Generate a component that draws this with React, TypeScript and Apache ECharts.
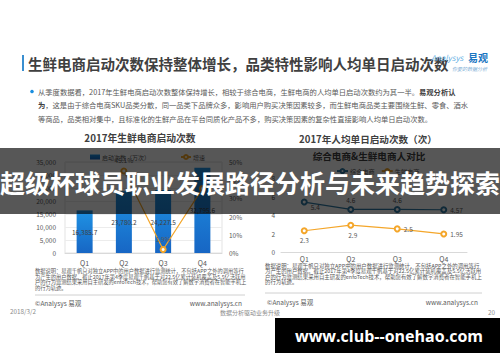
import React, { useEffect, useRef } from 'react';
import * as echarts from 'echarts';

const FONT = '"Noto Sans CJK SC", "Noto Sans", sans-serif';

// ---- data ----
const quarters = ['Q1', 'Q2', 'Q3', 'Q4'];
const launches = [16385.7, 23780.2, 24227.5, 32795.6];
const growth: (number | string)[] = ['-', 45.1, 1.9, 35.4];
const comprehensive = [5.4, 4.6, 4.6, 4.57];
const fresh = [2.3, 2.9, 2.5, 1.95];

// ---- texts ----
const headline = '生鲜电商启动次数保持整体增长，品类特性影响人均单日启动次数';
const bulletLines = [
  '从季度数据看，2017年生鲜电商启动次数整体保持增长，相较于综合电商，生鲜电商的人均单日启动次数约为其一半。{b|易观分析认}',
  '{b|为}，这是由于综合电商SKU品类分散，同一品类下品牌众多，影响用户购买决策因素较多，而生鲜电商品类主要围绕生鲜、零食、酒水',
  '等商品，品类相对集中，且标准化的生鲜产品在平台同质化产品不多，购买决策因素的复杂性直接影响人均单日启动次数。',
];
const noteLines = [
  '数据说明：易观千帆只对独立APP中的用户数据进行监测统计，不包括APP之外的调用等行',
  '为产生的用户数据。截止2017年第4季度易观千帆基于对22.5亿累计装机覆盖及5.5亿活跃用',
  '户的行为监测结果采用自主研发的enfoTech技术，帮助您有效了解数字消费者在智能手机上',
  '的行为轨迹。',
];
const bannerText = '超级杯球员职业发展路径分析与未来趋势探索';
const watermarkText = 'www.club--onehao.com';

const ORANGE = '#f4a62a';
const TEAL = '#2f7aa3';
const GRAY = '#595959';

function txt(x: number, y: number, text: string, size: number, extra: any = {}, z = 10) {
  return {
    type: 'text',
    x,
    y,
    z,
    silent: true,
    style: {
      text,
      fontSize: size,
      fontFamily: FONT,
      fill: GRAY,
      textVerticalAlign: 'middle',
      ...extra,
    },
  };
}

export default function App() {
  const ref = useRef<HTMLDivElement>(null);

  useEffect(() => {
    if (!ref.current) return;
    const chart = echarts.init(ref.current, null, { renderer: 'svg' });

    const graphics: any[] = [];
    // header
    graphics.push({ type: 'rect', shape: { x: 22, y: 55, width: 2, height: 16 }, style: { fill: '#3a8fd0' }, z: 10 });
    graphics.push(txt(28, 63, headline, 14.5, { fontWeight: 'bold', fill: '#404040' }));
    graphics.push(txt(431, 57, 'Analysys', 8, { fontStyle: 'italic', fill: '#6fb6e6' }));
    graphics.push(txt(468, 57, '易观', 10, { fontWeight: 'bold', fill: '#1a76c2' }));
    graphics.push(txt(487, 68, '你要的数据分析', 5, { fontStyle: 'italic', fill: '#7fb0d6', textAlign: 'right' }));
    // bullet
    graphics.push({ type: 'circle', shape: { cx: 32, cy: 91.5, r: 1.8 }, style: { fill: '#1a8fe0' }, z: 10 });
    const bulletY = [91.5, 105, 118.5];
    bulletLines.forEach((l, i) => {
      graphics.push(txt(38, bulletY[i], l, 7.3, { rich: { b: { fontWeight: 'bold', fontSize: 7.3, fontFamily: FONT, fill: '#404040' } } }));
    });
    // chart titles
    graphics.push(txt(140, 138, '2017年生鲜电商启动次数', 9.8, { fontWeight: 'bold', fill: '#404040', textAlign: 'center' }));
    graphics.push(txt(368, 139, '2017年人均单日启动次数（次）', 9.6, { fontWeight: 'bold', fill: '#404040', textAlign: 'center' }));
    graphics.push(txt(369, 156, '综合电商&生鲜电商人对比', 9.6, { fontWeight: 'bold', fill: '#404040', textAlign: 'center' }));
    // footnotes
    const noteYL = [271, 276.5, 282, 287.5];
    const noteYR = [265.5, 271, 276.5, 282];
    noteLines.forEach((l, i) => {
      graphics.push(txt(35, noteYL[i], l, 5.25, {}));
      graphics.push(txt(265, noteYR[i], l, 5.4, {}));
    });
    graphics.push({ type: 'line', shape: { x1: 35, y1: 295, x2: 245, y2: 295 }, style: { stroke: '#d0d0d0', lineWidth: 1 }, z: 10 });
    graphics.push({ type: 'line', shape: { x1: 265, y1: 293, x2: 482, y2: 293 }, style: { stroke: '#d0d0d0', lineWidth: 1 }, z: 10 });
    graphics.push(txt(35, 302.5, '©Analysys 易观', 6.5));
    graphics.push(txt(242, 302.5, 'www.analysys.cn', 6.5, { textAlign: 'right' }));
    graphics.push(txt(267, 302, '©Analysys 易观', 6.5));
    graphics.push(txt(478, 302, 'www.analysys.cn', 6.5, { textAlign: 'right' }));
    // page footer
    graphics.push(txt(10, 311.5, '2018/3/2', 6.3, { fill: '#8c8c8c' }));
    graphics.push(txt(250, 312, '数据分析驱动业务升级', 6, { fill: '#8c8c8c', textAlign: 'center' }));
    graphics.push(txt(495, 312, '20', 6.3, { fill: '#8c8c8c', textAlign: 'right' }));
    // banner overlay
    graphics.push({ type: 'rect', shape: { x: 0, y: 148, width: 500, height: 66 }, style: { fill: 'rgba(0,0,0,0.66)' }, z: 100, silent: true });
    graphics.push(txt(250, 182, bannerText, 25, { fontWeight: 'bold', fill: '#ffffff', textAlign: 'center' }, 101));
    // watermark box
    graphics.push({ type: 'rect', shape: { x: 275, y: 318, width: 225, height: 35 }, style: { fill: '#000000' }, z: 100, silent: true });
    graphics.push({
      type: 'text', x: 389, y: 336, z: 101, silent: true,
      style: { text: watermarkText, fontSize: 16, fontWeight: 'bold', fontFamily: '"Open Sans", sans-serif', fill: '#ffffff', textAlign: 'center', textVerticalAlign: 'middle' },
    });

    const axisLabel = { color: GRAY, fontSize: 6.5, fontFamily: FONT };

    const option: any = {
      animation: false,
      backgroundColor: '#ffffff',
      textStyle: { fontFamily: FONT },
      legend: [
        {
          data: [{ name: '启动次数（万次）', icon: 'rect' }, { name: '增速' }],
          left: 85, top: 149, itemWidth: 10, itemHeight: 5, itemGap: 30,
          textStyle: { fontSize: 6, color: GRAY, fontFamily: FONT, padding: [0, 0, 0, -3] },
        },
        {
          data: ['综合电商', '生鲜电商'],
          left: 331, top: 163, itemWidth: 11, itemHeight: 5, itemGap: 6,
          textStyle: { fontSize: 6.2, color: GRAY, fontFamily: FONT, padding: [0, 0, 0, -3] },
        },
      ],
      grid: [
        { left: 65, right: 278, top: 162, bottom: 109, show: true, borderColor: '#e3e3e3', borderWidth: 1, backgroundColor: 'transparent' },
        { left: 281, right: 33, top: 178, bottom: 110 },
      ],
      xAxis: [
        {
          type: 'category', gridIndex: 0, data: quarters,
          axisLine: { lineStyle: { color: '#d9d9d9' } }, axisTick: { show: false },
          axisLabel: { ...axisLabel, fontSize: 7, margin: 6 },
        },
        {
          type: 'category', gridIndex: 1, data: quarters,
          axisLine: { lineStyle: { color: '#d9d9d9' } }, axisTick: { show: false },
          axisLabel: { ...axisLabel, fontSize: 7, margin: 3 },
        },
      ],
      yAxis: [
        {
          type: 'value', gridIndex: 0, min: 0, max: 35000, interval: 5000,
          axisLine: { show: false }, axisTick: { show: false },
          splitLine: { lineStyle: { color: '#ececec' } },
          axisLabel: { ...axisLabel, margin: 9 },
        },
        {
          type: 'value', gridIndex: 0, min: 0, max: 50, interval: 10, position: 'right',
          axisLine: { show: false }, axisTick: { show: false }, splitLine: { show: false },
          axisLabel: { ...axisLabel, margin: 7, formatter: '{value}%' },
        },
        {
          type: 'value', gridIndex: 1, min: 0, max: 8, interval: 2,
          axisLine: { show: false }, axisTick: { show: false }, splitLine: { show: false },
          axisLabel: { ...axisLabel, margin: 6 },
        },
      ],
      series: [
        {
          name: '启动次数（万次）', type: 'bar', xAxisIndex: 0, yAxisIndex: 0,
          data: launches, barWidth: 16,
          itemStyle: {
            color: new echarts.graphic.LinearGradient(0, 0, 0, 1, [
              { offset: 0, color: '#1f93e4' },
              { offset: 1, color: '#1766c4' },
            ]),
          },
          label: {
            show: true, position: 'inside', fontSize: 6.5, color: '#404040', fontFamily: FONT,
            formatter: (p: any) => Number(p.value).toLocaleString('en-US', { minimumFractionDigits: 1, maximumFractionDigits: 1 }),
          },
        },
        {
          name: '增速', type: 'line', xAxisIndex: 0, yAxisIndex: 1,
          data: growth, symbol: 'emptyCircle', symbolSize: 5,
          lineStyle: { color: ORANGE, width: 1.2 }, itemStyle: { color: ORANGE },
          label: { show: true, position: 'top', distance: 4, fontSize: 6.5, color: GRAY, formatter: '{c}%' },
        },
        {
          name: '综合电商', type: 'line', xAxisIndex: 1, yAxisIndex: 2,
          data: [
            { value: comprehensive[0], label: { position: 'right', offset: [0, 5] } },
            { value: comprehensive[1], label: { position: 'top' } },
            { value: comprehensive[2], label: { position: 'top' } },
            { value: comprehensive[3], label: { position: 'right' } },
          ],
          symbol: 'emptyCircle', symbolSize: 5,
          lineStyle: { color: TEAL, width: 1.2 }, itemStyle: { color: TEAL },
          label: { show: true, distance: 3, fontSize: 6.5, color: GRAY },
        },
        {
          name: '生鲜电商', type: 'line', xAxisIndex: 1, yAxisIndex: 2,
          data: [
            { value: fresh[0], label: { position: 'bottom' } },
            { value: fresh[1], label: { position: 'bottom', offset: [2, 0] } },
            { value: fresh[2], label: { position: 'right' } },
            { value: fresh[3], label: { position: 'right' } },
          ],
          symbol: 'emptyCircle', symbolSize: 5,
          lineStyle: { color: ORANGE, width: 1.2 }, itemStyle: { color: ORANGE },
          label: { show: true, distance: 3, fontSize: 6.5, color: GRAY },
        },
      ],
      graphic: { elements: graphics },
    };

    chart.setOption(option);
    return () => chart.dispose();
  }, []);

  return (
    <div
      ref={ref}
      style={{ position: 'absolute', left: 0, top: 0, width: 500, height: 362 }}
    />
  );
}
